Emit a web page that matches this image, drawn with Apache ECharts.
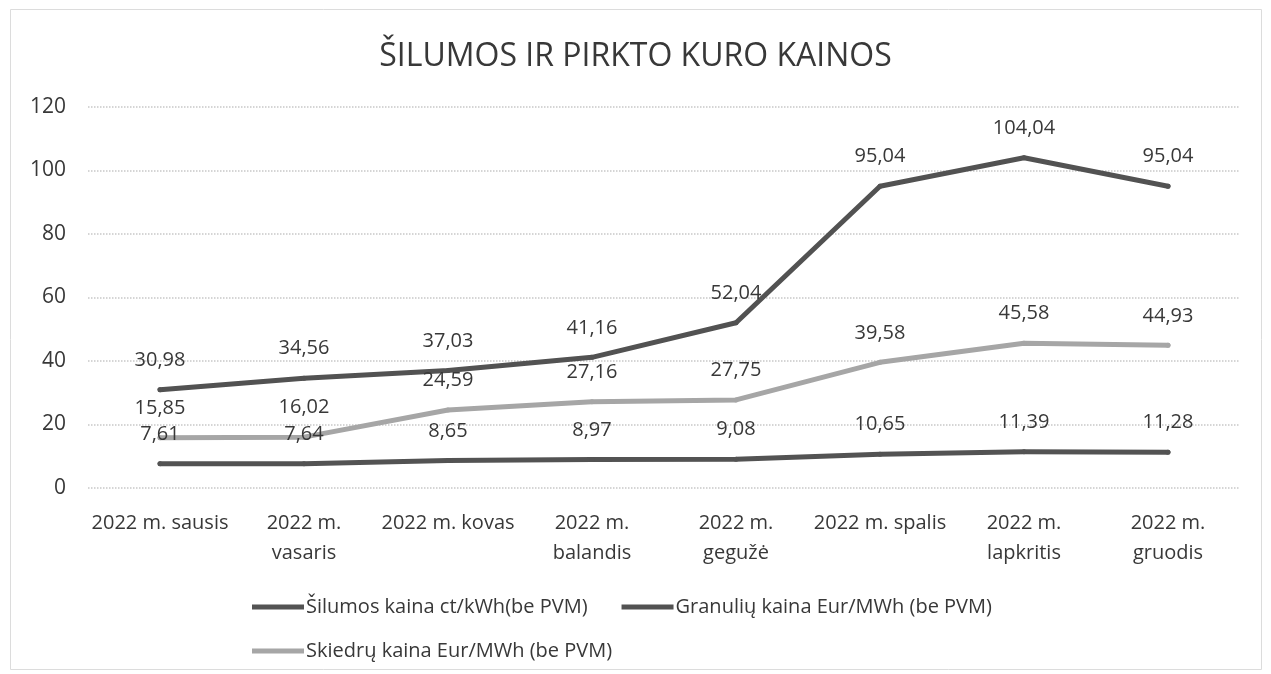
<!DOCTYPE html>
<html>
<head>
<meta charset="utf-8">
<script src="https://cdn.jsdelivr.net/npm/echarts@6/dist/echarts.min.js"></script>
<style>
html,body{margin:0;padding:0;background:#fff;}
#chart{width:1271px;height:674px;}
</style>
</head>
<body>
<div id="chart"></div>
<script>
const titleText = 'ŠILUMOS IR PIRKTO KURO KAINOS';
const categories = ['2022 m. sausis', '2022 m.\nvasaris', '2022 m. kovas', '2022 m.\nbalandis', '2022 m.\ngegužė', '2022 m. spalis', '2022 m.\nlapkritis', '2022 m.\ngruodis'];
const seriesNames = ['Šilumos kaina ct/kWh(be PVM)', 'Granulių kaina Eur/MWh (be PVM)', 'Skiedrų kaina Eur/MWh (be PVM)'];
const silumos = [7.61, 7.64, 8.65, 8.97, 9.08, 10.65, 11.39, 11.28];
const granuliu = [30.98, 34.56, 37.03, 41.16, 52.04, 95.04, 104.04, 95.04];
const skiedru = [15.85, 16.02, 24.59, 27.16, 27.75, 39.58, 45.58, 44.93];
const yTicks = { min: 0, max: 120, interval: 20 };

const FONT = 'Open Sans';
const TEXT = '#383838';
const chart = echarts.init(document.getElementById('chart'), null, { renderer: 'canvas' });

function mkSeries(name, data, color) {
  return {
    name: name,
    type: 'line',
    data: data,
    showSymbol: true,
    symbol: 'circle',
    symbolSize: 5,
    lineStyle: { color: color, width: 5, cap: 'round', join: 'round' },
    itemStyle: { color: color, borderWidth: 0 },
    label: {
      show: true,
      position: 'top',
      distance: 17,
      color: TEXT,
      fontFamily: FONT,
      fontSize: 20,
      formatter: p => p.value.toFixed(2).replace('.', ',')
    },
    labelLayout: { hideOverlap: false },
    emphasis: { disabled: true },
    animation: false
  };
}

const legendText = { fontFamily: FONT, fontSize: 20, color: TEXT, padding: [0, 0, 0, -3] };

chart.setOption({
  animation: false,
  backgroundColor: '#ffffff',
  title: {
    text: titleText,
    left: 'center',
    top: 36,
    textStyle: { fontFamily: FONT, fontSize: 32, fontWeight: 'normal', color: TEXT }
  },
  grid: { left: 88, right: 31, top: 107, bottom: 186, containLabel: false },
  xAxis: {
    type: 'category',
    data: categories,
    boundaryGap: true,
    axisLine: { show: false },
    axisTick: { show: false },
    axisLabel: {
      interval: 0,
      margin: 20,
      color: TEXT,
      fontFamily: FONT,
      fontSize: 20,
      lineHeight: 30,
      verticalAlign: 'top'
    },
    splitLine: { show: false }
  },
  yAxis: {
    type: 'value',
    min: yTicks.min,
    max: yTicks.max,
    interval: yTicks.interval,
    axisLine: { show: false },
    axisTick: { show: false },
    axisLabel: { margin: 22, color: TEXT, fontFamily: FONT, fontSize: 21 },
    splitLine: { show: true, lineStyle: { color: '#c8c8c8', type: 'dotted', width: 1.5 } }
  },
  legend: [
    {
      data: [seriesNames[0], seriesNames[1]],
      left: 247,
      top: 592,
      icon: 'rect',
      itemWidth: 52,
      itemHeight: 5,
      itemGap: 34,
      textStyle: legendText,
      selectedMode: false
    },
    {
      data: [seriesNames[2]],
      left: 247,
      top: 636,
      icon: 'rect',
      itemWidth: 52,
      itemHeight: 5,
      textStyle: legendText,
      selectedMode: false
    }
  ],
  graphic: [
    {
      type: 'rect',
      silent: true,
      shape: { x: 10.5, y: 9.5, width: 1251, height: 660 },
      style: { fill: 'none', stroke: '#dcdcdc', lineWidth: 1 }
    }
  ],
  series: [
    mkSeries(seriesNames[0], silumos, '#535353'),
    mkSeries(seriesNames[1], granuliu, '#525252'),
    mkSeries(seriesNames[2], skiedru, '#a6a6a6')
  ]
});
</script>
</body>
</html>
